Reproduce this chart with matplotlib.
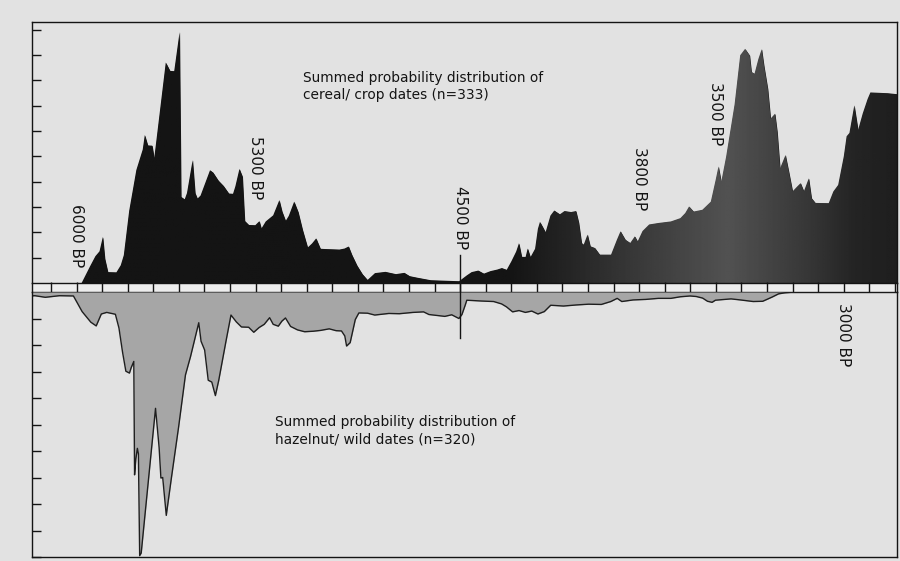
import numpy as np
import matplotlib.pyplot as plt

# summed probability, cereal / crop dates (plotted upwards)
cereal_bp = [5980, 5947, 5926, 5910, 5897, 5889, 5877, 5844, 5827, 5815,
             5794, 5766, 5741, 5733, 5721, 5704, 5696, 5651, 5634, 5618,
             5597, 5591, 5577, 5568, 5546, 5536, 5527, 5515, 5478, 5466,
             5445, 5425, 5404, 5388, 5379, 5363, 5351, 5342, 5326, 5301,
             5285, 5277, 5260, 5231, 5207, 5196, 5182, 5170, 5149, 5133,
             5116, 5096, 5079, 5063, 5046, 5026, 4972, 4952, 4936, 4923,
             4903, 4882, 4862, 4833, 4792, 4751, 4718, 4697, 4668, 4615,
             4504, 4474, 4455, 4429, 4407, 4381, 4355, 4337, 4318, 4300,
             4281, 4270, 4259, 4244, 4236, 4225, 4207, 4196, 4188, 4177,
             4166, 4147, 4132, 4110, 4092, 4066, 4047, 4036, 4025, 4017,
             4002, 3991, 3973, 3954, 3910, 3887, 3873, 3854, 3835, 3817,
             3806, 3787, 3761, 3724, 3676, 3639, 3620, 3605, 3587, 3553,
             3520, 3501, 3490, 3479, 3460, 3427, 3405, 3386, 3368, 3361,
             3349, 3334, 3321, 3312, 3297, 3286, 3269, 3260, 3249, 3228,
             3215, 3200, 3182, 3169, 3156, 3137, 3126, 3111, 3059, 3041,
             3022, 3000, 2989, 2978, 2959, 2944, 2926, 2907, 2896, 2829,
             2790]
cereal_spd = [0.00, 0.66, 1.06, 1.25, 1.82, 0.96, 0.43, 0.42, 0.70, 1.10,
              2.85, 4.46, 5.27, 5.84, 5.43, 5.42, 4.93, 8.70, 8.37, 8.36,
              9.90, 3.40, 3.30, 3.55, 4.85, 3.55, 3.33, 3.45, 4.45, 4.36,
              4.04, 3.83, 3.53, 3.52, 3.81, 4.50, 4.20, 2.45, 2.29, 2.28,
              2.44, 2.15, 2.43, 2.67, 3.27, 2.82, 2.45, 2.65, 3.21, 2.80,
              2.10, 1.40, 1.56, 1.76, 1.35, 1.34, 1.32, 1.36, 1.44, 1.11,
              0.69, 0.35, 0.12, 0.39, 0.44, 0.35, 0.40, 0.27, 0.21, 0.11,
              0.07, 0.30, 0.43, 0.49, 0.37, 0.47, 0.53, 0.59, 0.52, 0.85,
              1.24, 1.57, 1.03, 1.03, 1.36, 1.02, 1.35, 2.14, 2.41, 2.21,
              2.00, 2.66, 2.86, 2.71, 2.84, 2.80, 2.84, 2.38, 1.58, 1.51,
              1.91, 1.45, 1.38, 1.12, 1.12, 1.71, 2.04, 1.71, 1.58, 1.84,
              1.64, 2.05, 2.31, 2.37, 2.43, 2.56, 2.76, 3.02, 2.82, 2.89,
              3.21, 4.07, 4.60, 4.00, 4.99, 7.05, 8.99, 9.24, 8.98, 8.33,
              8.26, 8.84, 9.23, 8.58, 7.66, 6.49, 6.68, 5.96, 4.53, 5.05,
              4.40, 3.62, 3.81, 3.94, 3.62, 4.13, 3.35, 3.16, 3.15, 3.61,
              3.87, 5.00, 5.79, 5.92, 7.01, 6.04, 6.69, 7.26, 7.52, 7.49,
              7.45]

# summed probability, hazelnut / wild dates (plotted downwards)
hazel_bp = [6211, 6163, 6122, 6067, 6012, 5978, 5944, 5923, 5903, 5882,
            5848, 5834, 5820, 5807, 5793, 5786, 5776, 5773, 5768, 5762,
            5758, 5753, 5747, 5691, 5677, 5670, 5663, 5649, 5629, 5601,
            5574, 5554, 5522, 5513, 5499, 5485, 5471, 5457, 5444, 5416,
            5396, 5375, 5355, 5327, 5307, 5286, 5266, 5245, 5231, 5211,
            5197, 5183, 5163, 5136, 5108, 5074, 5046, 5012, 4985, 4964,
            4951, 4944, 4930, 4910, 4896, 4862, 4834, 4779, 4738, 4684,
            4643, 4622, 4560, 4533, 4505, 4493, 4480, 4474, 4418, 4369,
            4338, 4319, 4295, 4270, 4245, 4220, 4196, 4171, 4146, 4096,
            4047, 3998, 3948, 3911, 3886, 3868, 3824, 3775, 3725, 3676,
            3639, 3601, 3577, 3552, 3533, 3515, 3502, 3478, 3441, 3404,
            3354, 3317, 3280, 3255, 3230, 3193, 2790]
hazel_spd = [0.17, 0.14, 0.20, 0.14, 0.15, 0.74, 1.14, 1.28, 0.83, 0.77,
             0.84, 1.36, 2.27, 2.99, 3.06, 2.85, 2.62, 6.90, 6.30, 5.90,
             6.10, 9.95, 9.85, 4.39, 5.87, 7.02, 7.00, 8.43, 7.02, 5.11,
             3.13, 2.43, 1.16, 1.86, 2.19, 3.33, 3.40, 3.91, 3.34, 1.88,
             0.87, 1.13, 1.32, 1.33, 1.52, 1.34, 1.22, 0.97, 1.22, 1.29,
             1.10, 0.98, 1.30, 1.43, 1.50, 1.48, 1.45, 1.39, 1.46, 1.47,
             1.66, 2.04, 1.91, 1.04, 0.79, 0.80, 0.87, 0.81, 0.82, 0.77,
             0.75, 0.85, 0.92, 0.86, 1.00, 0.85, 0.49, 0.31, 0.34, 0.36,
             0.45, 0.56, 0.75, 0.70, 0.77, 0.72, 0.83, 0.74, 0.50, 0.53,
             0.49, 0.46, 0.47, 0.36, 0.24, 0.36, 0.30, 0.28, 0.24, 0.24,
             0.18, 0.15, 0.17, 0.23, 0.35, 0.39, 0.31, 0.29, 0.26, 0.30,
             0.36, 0.35, 0.19, 0.07, 0.03, 0.00, 0.00]

date_labels = ["6000 BP", "5300 BP", "4500 BP", "3800 BP", "3500 BP", "3000 BP"]
date_bp = [6000, 5300, 4500, 3800, 3500, 3000]
cereal_text = "Summed probability distribution of\ncereal/ crop dates (n=333)"
hazel_text = "Summed probability distribution of\nhazelnut/ wild dates (n=320)"

paper = "#e2e2e2"
ink = "#141414"
plt.rcParams["font.family"] = "DejaVu Sans"

fig = plt.figure(figsize=(9, 5.61), dpi=100, facecolor=paper)
W, H = 900, 561
left, width = 32 / W, 865 / W
ax_top = fig.add_axes([left, 1 - 283 / H, width, 261 / H])
ax_mid = fig.add_axes([left, 1 - 292 / H, width, 9 / H])
ax_bot = fig.add_axes([left, 1 - 557 / H, width, 265 / H])
x0, x1 = 6174, 2792

for ax in (ax_top, ax_mid, ax_bot):
    ax.set_facecolor("none")
    for s in ax.spines.values():
        s.set_linewidth(1.0)
        s.set_color(ink)

# upper panel: cereal dates, with the lighter sheen across the later peaks
area = ax_top.fill_between(cereal_bp, cereal_spd, 0, color=ink, lw=0)
xs = np.linspace(x0, x1, 500)
shade = np.interp(-xs, [-4300, -3750, -3450, -3150, -2950, -2790],
                  [0.08, 0.24, 0.32, 0.22, 0.14, 0.12])
sheen = ax_top.imshow(shade[None, :], extent=[x0, x1, 0, 10.3], aspect="auto",
                      cmap="gray", vmin=0, vmax=1, interpolation="bilinear",
                      zorder=2)
sheen.set_clip_path(area.get_paths()[0], transform=ax_top.transData)
ax_top.set_ylim(0, 10.3)
ax_top.set_yticks(range(1, 11))
ax_top.set_xticks([])
ax_top.tick_params(axis="y", direction="in", length=6.5, width=1, labelleft=False, color=ink)
ax_top.spines["bottom"].set_visible(False)

# timeline strip, one box per century
ax_mid.set_facecolor("#ededed")
ax_mid.set_ylim(0, 1)
ax_mid.set_yticks([])
ax_mid.set_xticks(np.arange(2800, 6200, 100))
ax_mid.tick_params(axis="x", direction="in", length=7, width=1, labelbottom=False, color=ink)

# lower panel: hazelnut dates, mirrored
neg = -np.array(hazel_spd)
ax_bot.fill_between(hazel_bp, neg, 0, color="#a6a6a6", lw=0)
ax_bot.plot(hazel_bp, neg, color="#1e1e1e", lw=1.0)
ax_bot.set_ylim(-10, 0)
ax_bot.set_yticks(range(-10, 0))
ax_bot.set_xticks([])
ax_bot.tick_params(axis="y", direction="in", length=6.5, width=1, labelleft=False, color=ink)
ax_bot.spines["top"].set_visible(False)

# 4500 BP divider running through both panels
ax_top.plot([4500, 4500], [0, 1.1], color=ink, lw=1.0, zorder=3)
ax_mid.axvline(4500, color=ink, lw=1.0)
ax_bot.plot([4500, 4500], [-1.75, 0], color=ink, lw=1.0)

# date labels
label_y = [1.86, 4.54, 2.6, 4.13, 6.69, -1.6]
for txt, bp, y in zip(date_labels, date_bp, label_y):
    ax = ax_top if y > 0 else ax_bot
    ax.text(bp, y, txt, rotation=-90, ha="center", va="center",
            fontsize=11, color=ink, zorder=4)

ax_top.text(5116, 7.75, cereal_text, ha="left", va="center",
            fontsize=9.9, color=ink, linespacing=1.25)
ax_bot.text(5223, -5.24, hazel_text, ha="left", va="center",
            fontsize=9.9, color=ink, linespacing=1.25)

for ax in (ax_top, ax_mid, ax_bot):
    ax.set_xlim(x0, x1)

fig.savefig("out.png", dpi=100, facecolor=paper)
